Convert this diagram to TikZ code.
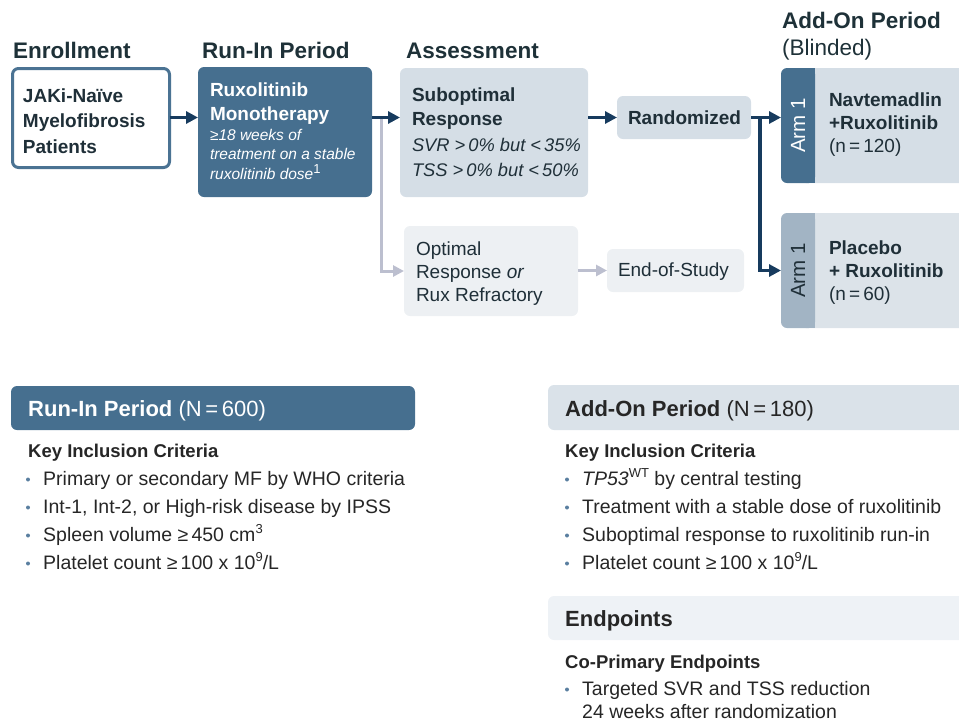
\documentclass[tikz,border=0pt]{standalone}
\usepackage{fontspec}
\setmainfont{Liberation Sans}
\usetikzlibrary{arrows.meta}

\definecolor{steel}{HTML}{466F8F}
\definecolor{navy}{HTML}{173B5E}
\definecolor{paleblue}{HTML}{D5DEE6}
\definecolor{palegray}{HTML}{EDF0F3}
\definecolor{armgray}{HTML}{A2B4C4}
\definecolor{armpale}{HTML}{DCE3E9}
\definecolor{barblue}{HTML}{DAE2E9}
\definecolor{barpale}{HTML}{EEF2F6}
\definecolor{linkgray}{HTML}{BCBFCF}
\definecolor{rimblue}{HTML}{4B7393}
\definecolor{headink}{HTML}{1E3138}
\definecolor{boxink}{HTML}{1F2F38}
\definecolor{bodyink}{HTML}{262626}
\definecolor{dotblue}{HTML}{5A7FA0}

\newcommand{\supnum}[1]{\raisebox{0.36em}{\fontsize{13}{13}\selectfont\upshape #1}}

\begin{document}
\begin{tikzpicture}[x=1pt, y=-1pt,
  box/.style={anchor=north west, rounded corners=6, inner sep=0, outer sep=0},
  txt/.style={anchor=base west, inner sep=0, outer sep=0, align=left, text=boxink},
  head/.style={anchor=base west, inner sep=0, text=headink, font=\bfseries\fontsize{22.5}{27}\selectfont},
  bartxt/.style={anchor=base west, inner sep=0, font=\fontsize{22}{26}\selectfont},
  sub/.style={anchor=base west, inner sep=0, text=bodyink, font=\bfseries\fontsize{18.5}{22}\selectfont},
  item/.style={anchor=base west, inner sep=0, align=left, text=bodyink, font=\fontsize{19.5}{23}\selectfont},
  armlbl/.style={rotate=90, font=\fontsize{20.5}{24}\selectfont},
  darr/.style={draw=navy, line width=3.5, -{Triangle[length=12pt,width=12pt]}},
  larr/.style={draw=linkgray, line width=3, -{Triangle[length=11pt,width=11pt]}}]
\clip (0,0) rectangle (959,724);

% column headings
\node[head] (hEnroll) at (13,58) {Enrollment};
\node[head] (hRunin) at (202,58) {Run-In Period};
\node[head] (hAssess) at (406,58) {Assessment};
\node[head] (hAddon) at (782,28) {Add-On Period};
\node[head, font=\fontsize{22.5}{27}\selectfont] (hBlind) at (782,55) {(Blinded)};

% flow boxes
\node[box, draw=rimblue, line width=3, fill=white, minimum width=157, minimum height=99] (enroll) at (12.5,68.5) {};
\node[box, fill=steel, minimum width=174, minimum height=130] (runin) at (198,67) {};
\node[box, fill=paleblue, minimum width=188, minimum height=129] (subopt) at (400,68) {};
\node[box, fill=paleblue, minimum width=134, minimum height=43] (rand) at (617,96) {};
\node[box, fill=palegray, minimum width=174, minimum height=90] (optimal) at (404,226) {};
\node[box, fill=palegray, minimum width=137, minimum height=43] (eos) at (607,249) {};

% arms
\node[box, fill=paleblue, minimum width=200, minimum height=115] (arm1pnl) at (800,68) {};
\node[box, fill=steel, minimum width=34, minimum height=115] (arm1tab) at (781,68) {};
\fill[steel] ([xshift=-8pt]arm1tab.north east) rectangle (arm1tab.south east);
\node[box, fill=armpale, minimum width=200, minimum height=115] (arm2pnl) at (800,213) {};
\node[box, fill=armgray, minimum width=34, minimum height=115] (arm2tab) at (781,213) {};
\fill[armgray] ([xshift=-8pt]arm2tab.north east) rectangle (arm2tab.south east);
\node[armlbl, text=white] (arm1lbl) at (arm1tab.center) {Arm 1};
\node[armlbl, text=boxink] (arm2lbl) at (arm2tab.center) {Arm 1};

% box texts (base = last line)
\node[txt, font=\bfseries\fontsize{19}{25.5}\selectfont] (enrolltxt) at (23,153) {JAKi-Naïve\\Myelofibrosis\\Patients};
\node[txt, text=white, font=\bfseries\fontsize{19}{24}\selectfont] (runintxt) at (210,120) {Ruxolitinib\\Monotherapy};
\node[txt, text=white, font=\itshape\fontsize{15.5}{19.7}\selectfont] (runinnote) at (210,179.5) {≥18 weeks of\\treatment on a stable\\ruxolitinib dose\supnum{1}};
\node[txt, font=\bfseries\fontsize{19}{24}\selectfont] (subopttxt) at (412,125.7) {Suboptimal\\Response};
\node[txt, font=\itshape\fontsize{18.3}{25}\selectfont] (suboptnote) at (412,176.7) {SVR >\,0\% but <\,35\%\\TSS >\,0\% but <\,50\%};
\node[txt, font=\bfseries\fontsize{19}{24}\selectfont] (randtxt) at (628,124) {Randomized};
\node[txt, font=\fontsize{19}{23.3}\selectfont] (optimaltxt) at (416,301.7) {Optimal\\Response \textit{or}\\Rux Refractory};
\node[txt, font=\fontsize{19}{23}\selectfont] (eostxt) at (618,276.7) {End-of-Study};
\node[txt, font=\fontsize{19}{23}\selectfont] (arm1txt) at (829,152.7) {\textbf{Navtemadlin}\\\textbf{+Ruxolitinib}\\(n\,=\,120)};
\node[txt, font=\fontsize{19}{23}\selectfont] (arm2txt) at (829,300) {\textbf{Placebo}\\\textbf{+ Ruxolitinib}\\(n\,=\,60)};

% connectors
\coordinate (split) at (runin.east |- rand.west);
\draw[larr] ([xshift=9pt]split) |- (optimal.west);
\draw[larr] (optimal.east |- eos.west) -- (eos.west);
\draw[darr] (enroll.east |- rand.west) -- (runin.west |- rand.west);
\draw[darr] (split) -- (subopt.west |- rand.west);
\draw[darr] (subopt.east |- rand.west) -- (rand.west);
\draw[darr] ([xshift=9pt]rand.east) |- (arm2tab.west);
\draw[darr] (rand.east) -- (rand.east -| arm1tab.west);

% summary panels
\node[box, fill=steel, minimum width=404, minimum height=44] (runbar) at (11,386) {};
\node[box, fill=barblue, minimum width=450, minimum height=45] (addbar) at (548,385) {};
\node[box, fill=barpale, minimum width=450, minimum height=44] (endbar) at (548,596) {};
\node[bartxt, text=white] (runbartxt) at (28,416) {\textbf{Run-In Period} (N\,=\,600)};
\node[bartxt, text=bodyink] (addbartxt) at (565,416) {\textbf{Add-On Period} (N\,=\,180)};
\node[bartxt, text=bodyink] (endbartxt) at (565,626) {\textbf{Endpoints}};

\node[sub] (runkey) at (28,457) {Key Inclusion Criteria};
\node[sub] (addkey) at (565,457) {Key Inclusion Criteria};
\node[sub] (endkey) at (565,668) {Co-Primary Endpoints};

\foreach \crit [count=\i from 0] in {Primary or secondary MF by WHO criteria,
    {Int-1, Int-2, or High-risk disease by IPSS},
    Spleen volume ≥\,450 cm\supnum{3},
    Platelet count ≥\,100 x 10\supnum{9}/L} {
  \node[item] (runcrit\i) at (43,485+28*\i) {\crit};
  \fill[dotblue] ([xshift=-15pt,yshift=5.5pt]runcrit\i.base west) circle (2);
}
\foreach \crit [count=\i from 0] in {\textit{TP53}\supnum{WT} by central testing,
    Treatment with a stable dose of ruxolitinib,
    Suboptimal response to ruxolitinib run-in,
    Platelet count ≥\,100 x 10\supnum{9}/L} {
  \node[item] (addcrit\i) at (582,485+28*\i) {\crit};
  \fill[dotblue] ([xshift=-15pt,yshift=5.5pt]addcrit\i.base west) circle (2);
}
\node[item] (endpt) at (582,718) {Targeted SVR and TSS reduction\\24 weeks after randomization};
\fill[dotblue] ([xshift=-15pt,yshift=28.5pt]endpt.base west) circle (2);
\end{tikzpicture}
\end{document}
